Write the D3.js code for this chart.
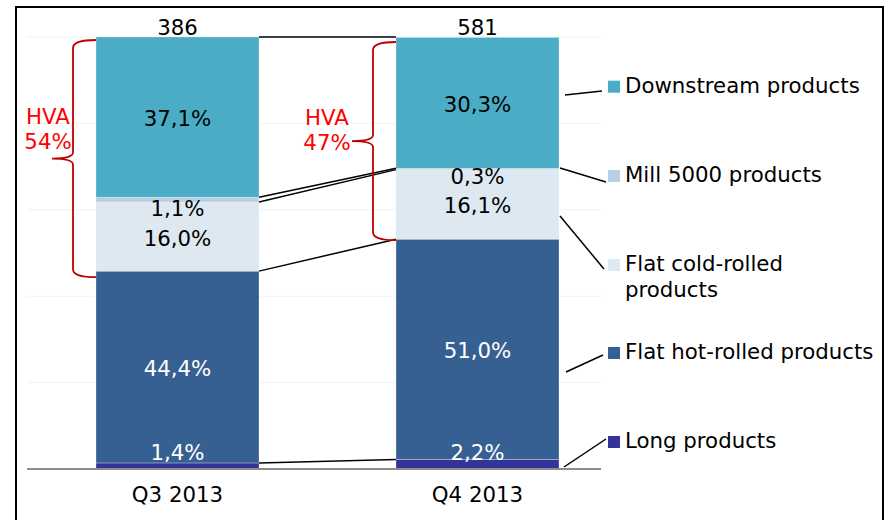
<!DOCTYPE html>
<html><head><meta charset="utf-8">
<script src="https://cdn.jsdelivr.net/npm/d3@7"></script>
<style>html,body{margin:0;padding:0;background:#fff;}svg{display:block;}</style>
</head><body>
<svg id="c" width="889" height="520"></svg>
<script>
const categories = ["Q3 2013", "Q4 2013"];
const totals = [386, 581];
const seriesNames = ["Long products", "Flat hot-rolled products", "Flat cold-rolled products", "Mill 5000 products", "Downstream products"];
const longValues = [1.4, 2.2];
const hotValues = [44.4, 51.0];
const coldValues = [16.0, 16.1];
const millValues = [1.1, 0.3];
const downValues = [37.1, 30.3];
const hvaValues = [54, 47];
const yTicks = [0, 20, 40, 60, 80, 100];
const colors = ["#333399", "#376092", "#DEE8F1", "#B9CDE5", "#4BACC6"];

const seriesValues = [longValues, hotValues, coldValues, millValues, downValues];
const keys = ["long", "hot", "cold", "mill", "down"];
const rows = categories.map((c, i) => {
  const r = {cat: c};
  keys.forEach((k, j) => r[k] = seriesValues[j][i]);
  return r;
});
const stacked = d3.stack().keys(keys)(rows);

const svg = d3.select("#c");
const FONT = "DejaVu Sans, Verdana, sans-serif";
const FS = 21.3;

const x = d3.scaleBand().domain(categories).range([27, 628]).paddingInner(0.4567).paddingOuter(0.23);
const y = d3.scaleLinear().domain([0, 100]).range([469, 37]);
const gridX0 = 27, gridX1 = 601;

// frame
svg.append("path").attr("d", "M16,530 L16,7 L883,7 L883,530")
  .attr("fill", "none").attr("stroke", "#000").attr("stroke-width", 2);

// gridlines
svg.append("g").selectAll("line").data(yTicks.slice(1)).join("line")
  .attr("x1", gridX0).attr("x2", gridX1)
  .attr("y1", d => y(d)).attr("y2", d => y(d))
  .attr("stroke", "#eef3f3").attr("stroke-width", 1);

// bars
const gBars = svg.append("g");
stacked.forEach((s, j) => {
  gBars.append("g").attr("fill", colors[j]).selectAll("rect").data(s).join("rect")
    .attr("x", d => x(d.data.cat)).attr("width", x.bandwidth())
    .attr("y", d => y(d[1])).attr("height", d => y(d[0]) - y(d[1]))
    .attr("stroke", "rgba(255,255,255,0.35)").attr("stroke-width", 0.8);
});

// axis baseline
svg.append("line").attr("x1", gridX0).attr("x2", gridX1)
  .attr("y1", y(0)).attr("y2", y(0)).attr("stroke", "#8c8c8c").attr("stroke-width", 2);

// connector lines between bars
const cats = categories;
const right0 = x(cats[0]) + x.bandwidth(), left1 = x(cats[1]);
const connLevels = [
  [100, 100],
  [stacked[3][0][1], stacked[3][1][1]],
  [stacked[3][0][0], stacked[3][1][0]],
  [stacked[1][0][1], stacked[1][1][1]],
  [stacked[0][0][1], stacked[0][1][1]]
];
svg.append("g").selectAll("line").data(connLevels).join("line")
  .attr("x1", right0).attr("x2", left1)
  .attr("y1", d => y(d[0])).attr("y2", d => y(d[1]))
  .attr("stroke", "#000").attr("stroke-width", 1.5);

// value labels
const fmt = v => d3.format(".1f")(v).replace(".", ",") + "%";
const gLab = svg.append("g").attr("font-family", FONT).attr("font-size", FS).attr("text-anchor", "middle");
categories.forEach((c, i) => {
  const cx = x(c) + x.bandwidth() / 2;
  const mid = j => (stacked[j][i][0] + stacked[j][i][1]) / 2;
  gLab.append("text").attr("x", cx).attr("y", y(mid(4)) + 9).attr("fill", "#000").text(fmt(downValues[i]));
  gLab.append("text").attr("x", cx).attr("y", y(stacked[3][i][0]) + 14).attr("fill", "#000").text(fmt(millValues[i]));
  gLab.append("text").attr("x", cx).attr("y", y(mid(2)) + 9).attr("fill", "#000").text(fmt(coldValues[i]));
  gLab.append("text").attr("x", cx).attr("y", y(mid(1)) + 9).attr("fill", "#fff").text(fmt(hotValues[i]));
  gLab.append("text").attr("x", cx).attr("y", y(0) - 9.5).attr("fill", "#fff").text(fmt(longValues[i]));
  gLab.append("text").attr("x", cx).attr("y", y(100) - 2).attr("fill", "#000").text(totals[i]);
  gLab.append("text").attr("x", cx).attr("y", 502).attr("fill", "#000").text(c);
});

// HVA braces
const braceOffsets = [{top: 3, bot: 6, labelX: -48}, {top: 5, bot: 1, labelX: -69}];
categories.forEach((c, i) => {
  const bx = x(c);
  const top = y(100) + braceOffsets[i].top;
  const bot = y(stacked[1][i][1]) + braceOffsets[i].bot;
  const mid = (top + bot) / 2;
  const vx = bx - 23, tip = bx - 44;
  const p = `M${bx},${top} Q${vx},${top} ${vx},${top + 8} L${vx},${mid - 6} Q${vx},${mid} ${tip},${mid} ` +
            `Q${vx},${mid} ${vx},${mid + 6} L${vx},${bot - 8} Q${vx},${bot} ${bx},${bot}`;
  svg.append("path").attr("d", p).attr("fill", "none").attr("stroke", "#C00000").attr("stroke-width", 1.8);
  const lx = bx + braceOffsets[i].labelX;
  const t = svg.append("text").attr("font-family", FONT).attr("font-size", FS).attr("fill", "#FF0000")
    .attr("text-anchor", "middle");
  t.append("tspan").attr("x", lx).attr("y", 124 + i).text("HVA");
  t.append("tspan").attr("x", lx).attr("y", 149 + i).text(hvaValues[i] + "%");
});

// legend
const legendBase = [448, 359, 271, 182, 92.7];
const leaders = [
  [564, 467, 606, 439],
  [566, 372, 603, 355],
  [560, 216, 604, 269],
  [560, 168, 606, 182],
  [565, 95, 602, 91]
];
const gLeg = svg.append("g").attr("font-family", FONT).attr("font-size", FS);
seriesNames.forEach((name, j) => {
  const b = legendBase[j];
  gLeg.append("rect").attr("x", 608).attr("y", b - 12).attr("width", 12).attr("height", 12).attr("fill", colors[j]);
  const parts = name === "Flat cold-rolled products" ? ["Flat cold-rolled", "products"] : [name];
  const t = gLeg.append("text").attr("fill", "#000");
  parts.forEach((p, k) => t.append("tspan").attr("x", 625).attr("y", b + k * 26).text(p));
  const L = leaders[j];
  svg.append("line").attr("x1", L[0]).attr("y1", L[1]).attr("x2", L[2]).attr("y2", L[3])
    .attr("stroke", "#000").attr("stroke-width", 1.5);
});
</script>
</body></html>
